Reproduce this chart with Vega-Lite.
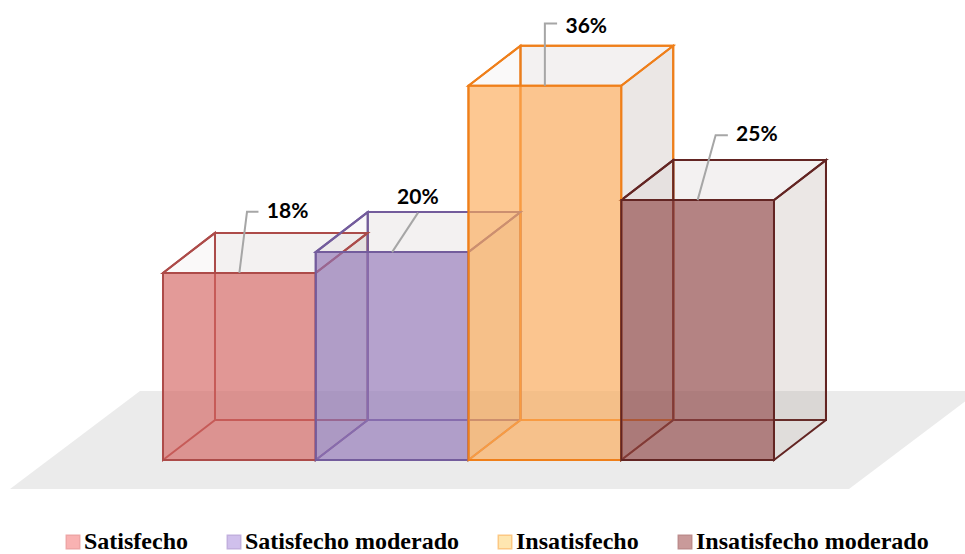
{
  "$schema": "https://vega.github.io/schema/vega-lite/v6.json",
  "width": 965,
  "height": 554,
  "padding": 0,
  "autosize": {"type": "fit", "contains": "padding"},
  "background": "white",
  "config": {"view": {"stroke": null}},
  "data": {
    "values": [
      {"categoria": "Satisfecho", "valor": 18},
      {"categoria": "Satisfecho moderado", "valor": 20},
      {"categoria": "Insatisfecho", "valor": 36},
      {"categoria": "Insatisfecho moderado", "valor": 25}
    ]
  },
  "transform": [
    {"calculate": "indexof(['Satisfecho','Satisfecho moderado','Insatisfecho','Insatisfecho moderado'], datum.categoria)", "as": "slot"},
    {"calculate": "0.3404", "as": "fondoX"},
    {"calculate": "3.848", "as": "fondoY"}
  ],
  "encoding": {
    "x": {"field": "xA", "type": "quantitative", "stack": null, "axis": null, "scale": {"domain": [-1.0671, 5.2505], "nice": false, "zero": false}},
    "y": {"field": "yA", "type": "quantitative", "stack": null, "axis": null, "scale": {"domain": [-9.043, 44.252], "nice": false, "zero": false}},
    "stroke": {
      "field": "categoria",
      "type": "nominal",
      "legend": null,
      "scale": {
        "domain": ["Satisfecho", "Satisfecho moderado", "Insatisfecho", "Insatisfecho moderado"],
        "range": ["#ad4b49", "#735c9c", "#ef7f1a", "#632523"]
      }
    }
  },
  "layer": [
    {
      "description": "Floor plane under the boxes",
      "data": {"values": [{"plano": "suelo", "d": [0, 1]}]},
      "transform": [
        {"flatten": ["d"]},
        {"calculate": "-1.0016 + datum.d * 0.851", "as": "xA"},
        {"calculate": "4.491 + datum.d * 0.851", "as": "xB"},
        {"calculate": "-2.79 + datum.d * 9.43", "as": "yA"}
      ],
      "mark": {"type": "area", "orient": "horizontal", "fill": "#ebebeb", "clip": true},
      "encoding": {"x2": {"field": "xB"}, "stroke": {"value": null}}
    },
    {
      "description": "Back face of each box",
      "transform": [
        {"calculate": "datum.slot + datum.fondoX", "as": "xA"},
        {"calculate": "datum.slot + 1 + datum.fondoX", "as": "xB"},
        {"calculate": "datum.fondoY", "as": "yA"},
        {"calculate": "datum.valor + datum.fondoY", "as": "yB"}
      ],
      "mark": {"type": "rect", "fill": "#7a6a5e", "fillOpacity": 0.05, "strokeWidth": 2},
      "encoding": {"x2": {"field": "xB"}, "y2": {"field": "yB"}}
    },
    {
      "description": "Right side face of each box",
      "transform": [
        {"calculate": "[0, 1]", "as": "d"},
        {"flatten": ["d"]},
        {"calculate": "datum.slot + 1 + datum.d * datum.fondoX", "as": "xA"},
        {"calculate": "datum.d * datum.fondoY", "as": "yA"},
        {"calculate": "datum.valor + datum.d * datum.fondoY", "as": "yB"}
      ],
      "mark": {"type": "area", "orient": "vertical", "fill": "#8a6a5a", "fillOpacity": 0.11, "strokeWidth": 2},
      "encoding": {"y2": {"field": "yB"}}
    },
    {
      "description": "Left side edges of each box",
      "transform": [
        {"calculate": "[0, 1]", "as": "d"},
        {"flatten": ["d"]},
        {"calculate": "datum.slot + datum.d * datum.fondoX", "as": "xA"},
        {"calculate": "datum.d * datum.fondoY", "as": "yA"},
        {"calculate": "datum.valor + datum.d * datum.fondoY", "as": "yB"}
      ],
      "mark": {"type": "area", "orient": "vertical", "fill": "#7a6a6a", "fillOpacity": 0, "strokeWidth": 2},
      "encoding": {"y2": {"field": "yB"}}
    },
    {
      "description": "Top lid of each box",
      "transform": [
        {"calculate": "[0, 1]", "as": "d"},
        {"flatten": ["d"]},
        {"calculate": "datum.slot + datum.d * datum.fondoX", "as": "xA"},
        {"calculate": "datum.slot + 1 + datum.d * datum.fondoX", "as": "xB"},
        {"calculate": "datum.valor + datum.d * datum.fondoY", "as": "yA"}
      ],
      "mark": {"type": "area", "orient": "horizontal", "fill": "#7a6a5e", "fillOpacity": 0.04, "strokeWidth": 2},
      "encoding": {"x2": {"field": "xB"}}
    },
    {
      "description": "Front face of each box",
      "transform": [
        {"calculate": "datum.slot", "as": "xA"},
        {"calculate": "datum.slot + 1", "as": "xB"},
        {"calculate": "0", "as": "yA"},
        {"calculate": "datum.valor", "as": "yB"}
      ],
      "mark": {"type": "rect", "fillOpacity": 0.65, "strokeWidth": 2},
      "encoding": {
        "x2": {"field": "xB"},
        "y2": {"field": "yB"},
        "fill": {
          "field": "categoria",
          "type": "nominal",
          "legend": null,
          "scale": {
            "domain": ["Satisfecho", "Satisfecho moderado", "Insatisfecho", "Insatisfecho moderado"],
            "range": ["#d46461", "#9175b7", "#fcab58", "#8f4545"]
          }
        }
      }
    },
    {
      "description": "Zero-sized squares that carry the legend, with its paler swatches",
      "transform": [
        {"calculate": "datum.slot", "as": "xA"},
        {"calculate": "0", "as": "yA"}
      ],
      "mark": {"type": "point", "filled": true, "size": 0},
      "encoding": {
        "stroke": {"value": null},
        "shape": {
          "field": "categoria",
          "type": "nominal",
          "sort": null,
          "scale": {"range": ["square", "square", "square", "square"]},
          "legend": {
            "title": null,
            "orient": "none",
            "legendX": 61,
            "legendY": 530,
            "direction": "horizontal",
            "columns": 4,
            "gridAlign": "none",
            "columnPadding": 34,
            "symbolSize": 180,
            "symbolStrokeWidth": 1.5,
            "symbolOpacity": 1,
            "labelOffset": -1,
            "labelFont": "Liberation Serif",
            "labelFontWeight": "bold",
            "labelFontSize": 24,
            "labelColor": "#000000",
            "labelLimit": 400,
            "labelExpr": "datum.value === 'Insatisfecho moderado' ? '\u00a0Insatisfecho moderado' : datum.value",
            "encoding": {
              "symbols": {
                "fill": {"value": {"expr": "{'Satisfecho':'#f9b2b2','Satisfecho moderado':'#d0c0ec','Insatisfecho':'#fee6b0','Insatisfecho moderado':'#c99a9a'}[datum.value]"}},
                "stroke": {"value": {"expr": "{'Satisfecho':'#eea6a6','Satisfecho moderado':'#c2b0de','Insatisfecho':'#fcc883','Insatisfecho moderado':'#bd8d8d'}[datum.value]"}}
              }
            }
          }
        }
      }
    },
    {
      "description": "Leader lines from each box to its percentage",
      "transform": [
        {"calculate": "[0, 1, 2]", "as": "paso"},
        {"flatten": ["paso"]},
        {"calculate": "[0.05, 0.17, 0.0, 0.118][datum.slot]", "as": "codoX"},
        {"calculate": "[5.87, 3.8, 6.0, 6.25][datum.slot]", "as": "codoY"},
        {"calculate": "[0.075, 0, 0.08, 0.08][datum.slot]", "as": "cola"},
        {"calculate": "datum.slot + 0.5 + (datum.paso > 0 ? datum.codoX : 0) + (datum.paso > 1 ? datum.cola : 0)", "as": "xA"},
        {"calculate": "datum.valor + (datum.paso > 0 ? datum.codoY : 0)", "as": "yA"}
      ],
      "mark": {"type": "line", "strokeWidth": 2, "interpolate": "linear"},
      "encoding": {
        "stroke": {"value": "#a6a6a6"},
        "detail": {"field": "categoria"},
        "order": {"field": "paso"}
      }
    },
    {
      "description": "Percentage labels",
      "transform": [
        {"calculate": "datum.valor + '%'", "as": "etiqueta"},
        {"calculate": "datum.slot + 0.5 + [0.18, 0.0325, 0.135, 0.252][datum.slot]", "as": "xA"},
        {"calculate": "datum.valor + [5.9, 5.2, 5.7, 6.3][datum.slot]", "as": "yA"}
      ],
      "mark": {"type": "text", "align": "left", "baseline": "middle", "font": "Lato", "fontWeight": "bold", "fontSize": 21, "color": "#000000"},
      "encoding": {
        "stroke": {"value": null},
        "text": {"field": "etiqueta", "type": "nominal"}
      }
    }
  ]
}
